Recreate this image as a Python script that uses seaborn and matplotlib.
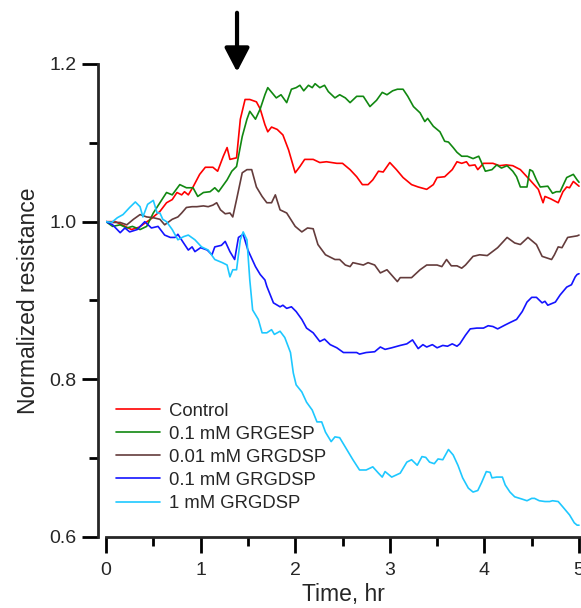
import pandas as pd
import matplotlib.pyplot as plt
import seaborn as sns
from matplotlib.ticker import MultipleLocator, FormatStrFormatter

# condition names, in legend order
conditions = ["Control", "0.1 mM GRGESP", "0.01 mM GRGDSP", "0.1 mM GRGDSP", "1 mM GRGDSP"]
colors = ["#ff0000", "#118811", "#643c3c", "#1414ff", "#1ec8ff"]

# time (hr) and normalized resistance
control_t = [0, 0.1, 0.27, 0.35, 0.47, 0.57, 0.64, 0.7, 0.75, 0.8, 0.83, 0.87, 0.92, 0.99, 1.05, 1.13,
             1.18, 1.24, 1.28, 1.31, 1.38, 1.42, 1.47, 1.52, 1.59, 1.63, 1.68, 1.71, 1.75, 1.81, 1.87,
             1.93, 2.0, 2.05, 2.10, 2.19, 2.26, 2.33, 2.44, 2.5, 2.58, 2.65, 2.71, 2.77, 2.82, 2.88,
             2.93, 3.0, 3.07, 3.14, 3.23, 3.30, 3.39, 3.46, 3.5, 3.58, 3.66, 3.71, 3.76, 3.81, 3.84,
             3.90, 3.93, 3.99, 4.09, 4.16, 4.23, 4.30, 4.38, 4.48, 4.57, 4.62, 4.64, 4.70, 4.78, 4.83,
             4.87, 4.9, 4.94, 4.98, 5.0]
control_r = [1.0, 1.0, 0.99, 0.993, 1.003, 1.013, 1.024, 1.028, 1.037, 1.034, 1.038, 1.034, 1.044, 1.06,
             1.069, 1.069, 1.064, 1.083, 1.094, 1.079, 1.081, 1.13, 1.155, 1.155, 1.152, 1.143, 1.123,
             1.114, 1.12, 1.117, 1.11, 1.091, 1.062, 1.07, 1.079, 1.079, 1.075, 1.076, 1.074, 1.074,
             1.066, 1.057, 1.047, 1.047, 1.053, 1.064, 1.063, 1.075, 1.066, 1.056, 1.047, 1.044, 1.041,
             1.047, 1.056, 1.057, 1.066, 1.076, 1.074, 1.076, 1.071, 1.072, 1.066, 1.074, 1.074, 1.071,
             1.072, 1.071, 1.066, 1.053, 1.041, 1.024, 1.032, 1.029, 1.024, 1.038, 1.044, 1.043, 1.051,
             1.047, 1.045]

gresp_t = [0, 0.07, 0.15, 0.22, 0.28, 0.36, 0.43, 0.5, 0.57, 0.64, 0.7, 0.78, 0.85, 0.92, 0.97, 1.03,
           1.1, 1.15, 1.19, 1.28, 1.33, 1.38, 1.44, 1.49, 1.52, 1.58, 1.63, 1.68, 1.71, 1.8, 1.85, 1.91,
           1.96, 2.01, 2.05, 2.09, 2.14, 2.18, 2.21, 2.26, 2.31, 2.35, 2.42, 2.47, 2.53, 2.58, 2.65,
           2.72, 2.79, 2.86, 2.92, 2.97, 3.03, 3.08, 3.14, 3.19, 3.25, 3.32, 3.37, 3.40, 3.46, 3.53,
           3.58, 3.62, 3.67, 3.71, 3.76, 3.82, 3.88, 3.94, 4.01, 4.08, 4.13, 4.18, 4.24, 4.30, 4.34,
           4.38, 4.45, 4.48, 4.51, 4.55, 4.59, 4.67, 4.72, 4.76, 4.80, 4.87, 4.94, 4.98, 5.0]
gresp_r = [1.0, 0.994, 0.996, 0.992, 0.994, 0.99, 0.994, 1.011, 1.024, 1.037, 1.034, 1.047, 1.043, 1.043,
           1.032, 1.037, 1.038, 1.043, 1.038, 1.053, 1.064, 1.07, 1.108, 1.13, 1.14, 1.13, 1.143, 1.161,
           1.17, 1.157, 1.161, 1.151, 1.168, 1.17, 1.173, 1.166, 1.173, 1.170, 1.175, 1.17, 1.173,
           1.165, 1.157, 1.161, 1.157, 1.151, 1.159, 1.159, 1.146, 1.154, 1.164, 1.161, 1.166, 1.168,
           1.168, 1.159, 1.146, 1.138, 1.127, 1.131, 1.121, 1.114, 1.102, 1.101, 1.094, 1.088, 1.083,
           1.083, 1.08, 1.083, 1.064, 1.066, 1.072, 1.068, 1.071, 1.064, 1.057, 1.044, 1.044, 1.066,
           1.064, 1.053, 1.044, 1.045, 1.036, 1.038, 1.038, 1.056, 1.06, 1.053, 1.05]

low_t = [0, 0.07, 0.15, 0.22, 0.29, 0.36, 0.43, 0.5, 0.57, 0.62, 0.7, 0.76, 0.8, 0.85, 0.91, 0.96, 1.03,
         1.08, 1.13, 1.17, 1.21, 1.26, 1.31, 1.34, 1.38, 1.44, 1.49, 1.54, 1.59, 1.65, 1.70, 1.75, 1.79,
         1.84, 1.91, 2.0, 2.07, 2.13, 2.19, 2.24, 2.32, 2.42, 2.47, 2.53, 2.58, 2.61, 2.72, 2.77, 2.84,
         2.9, 2.97, 3.08, 3.11, 3.23, 3.32, 3.39, 3.5, 3.55, 3.6, 3.65, 3.71, 3.76, 3.80, 3.88, 3.95,
         4.03, 4.14, 4.24, 4.32, 4.38, 4.46, 4.55, 4.61, 4.71, 4.74, 4.78, 4.82, 4.88, 4.98, 5.0]
low_r = [1.0, 0.999, 0.999, 0.996, 1.003, 1.009, 1.006, 1.005, 1.003, 0.996, 1.003, 1.006, 1.011, 1.018,
         1.019, 1.019, 1.02, 1.019, 1.021, 1.024, 1.015, 1.01, 1.011, 1.006, 1.028, 1.062, 1.066, 1.066,
         1.044, 1.032, 1.024, 1.024, 1.034, 1.015, 1.011, 0.994, 0.987, 0.992, 0.991, 0.971, 0.958,
         0.952, 0.952, 0.945, 0.943, 0.948, 0.945, 0.948, 0.945, 0.935, 0.939, 0.924, 0.929, 0.929,
         0.939, 0.945, 0.945, 0.943, 0.952, 0.944, 0.944, 0.941, 0.945, 0.956, 0.958, 0.957, 0.967,
         0.98, 0.973, 0.971, 0.98, 0.971, 0.956, 0.952, 0.958, 0.968, 0.967, 0.98, 0.982, 0.983]

mid_t = [0, 0.07, 0.15, 0.2, 0.25, 0.33, 0.41, 0.48, 0.55, 0.62, 0.68, 0.73, 0.76, 0.82, 0.87, 0.91, 0.94,
         1.0, 1.07, 1.12, 1.15, 1.22, 1.26, 1.31, 1.36, 1.4, 1.45, 1.5, 1.58, 1.63, 1.68, 1.7, 1.77,
         1.84, 1.87, 1.91, 1.96, 2.01, 2.07, 2.12, 2.19, 2.26, 2.31, 2.37, 2.44, 2.51, 2.58, 2.65,
         2.68, 2.75, 2.84, 2.9, 2.95, 3.02, 3.11, 3.18, 3.24, 3.30, 3.35, 3.39, 3.45, 3.5, 3.56, 3.61,
         3.66, 3.71, 3.74, 3.8, 3.85, 3.92, 3.99, 4.04, 4.09, 4.14, 4.22, 4.27, 4.34, 4.40, 4.45, 4.5,
         4.55, 4.61, 4.64, 4.67, 4.75, 4.8, 4.87, 4.92, 4.96, 4.98, 5.0]
mid_r = [1.0, 0.996, 0.986, 0.992, 0.987, 0.99, 1.0, 0.992, 0.994, 0.983, 0.98, 0.98, 0.984, 0.973,
         0.964, 0.968, 0.962, 0.967, 0.964, 0.958, 0.968, 0.97, 0.975, 0.962, 0.952, 0.98, 0.984, 0.964,
         0.943, 0.933, 0.926, 0.918, 0.897, 0.892, 0.894, 0.89, 0.892, 0.886, 0.876, 0.865, 0.859,
         0.848, 0.851, 0.844, 0.840, 0.834, 0.834, 0.834, 0.832, 0.834, 0.835, 0.841, 0.838, 0.84,
         0.843, 0.845, 0.85, 0.839, 0.844, 0.841, 0.844, 0.84, 0.843, 0.842, 0.845, 0.842, 0.845,
         0.856, 0.864, 0.865, 0.865, 0.868, 0.867, 0.864, 0.869, 0.872, 0.876, 0.886, 0.898, 0.904,
         0.904, 0.897, 0.899, 0.894, 0.898, 0.907, 0.917, 0.92, 0.93, 0.933, 0.934]

high_t = [0, 0.06, 0.12, 0.18, 0.25, 0.31, 0.36, 0.39, 0.44, 0.5, 0.54, 0.57, 0.6, 0.64, 0.7, 0.76, 0.82,
          0.87, 0.94, 1.01, 1.08, 1.15, 1.23, 1.28, 1.31, 1.34, 1.38, 1.42, 1.45, 1.49, 1.52, 1.55,
          1.61, 1.65, 1.70, 1.75, 1.78, 1.84, 1.89, 1.95, 1.98, 2.01, 2.07, 2.12, 2.18, 2.23, 2.28,
          2.32, 2.38, 2.42, 2.47, 2.55, 2.61, 2.68, 2.75, 2.82, 2.88, 2.92, 2.95, 3.02, 3.11, 3.18,
          3.23, 3.29, 3.34, 3.38, 3.42, 3.47, 3.51, 3.56, 3.62, 3.67, 3.72, 3.77, 3.83, 3.88, 3.93,
          3.97, 4.02, 4.06, 4.08, 4.13, 4.19, 4.22, 4.27, 4.32, 4.4, 4.45, 4.5, 4.53, 4.58, 4.64, 4.69,
          4.72, 4.78, 4.83, 4.9, 4.95, 4.98, 5.0]
high_r = [1.0, 0.999, 1.005, 1.009, 1.018, 1.025, 1.019, 1.006, 1.022, 1.027, 1.011, 1.011, 1.003, 1.0,
          0.99, 0.977, 0.981, 0.983, 0.977, 0.968, 0.964, 0.952, 0.948, 0.945, 0.93, 0.939, 0.939,
          0.977, 0.987, 0.977, 0.926, 0.888, 0.876, 0.859, 0.859, 0.863, 0.857, 0.861, 0.853, 0.834,
          0.808, 0.793, 0.784, 0.771, 0.761, 0.746, 0.746, 0.733, 0.721, 0.727, 0.726, 0.710, 0.698,
          0.685, 0.685, 0.689, 0.681, 0.676, 0.683, 0.676, 0.681, 0.695, 0.698, 0.691, 0.702, 0.701,
          0.695, 0.693, 0.699, 0.698, 0.711, 0.704, 0.691, 0.675, 0.662, 0.657, 0.659, 0.669, 0.683,
          0.682, 0.675, 0.676, 0.676, 0.666, 0.657, 0.651, 0.648, 0.646, 0.649, 0.649, 0.646, 0.645,
          0.645, 0.646, 0.645, 0.638, 0.628, 0.618, 0.615, 0.615]

series_t = [control_t, gresp_t, low_t, mid_t, high_t]
series_r = [control_r, gresp_r, low_r, mid_r, high_r]

arrow_time = 1.385  # when the peptide was added

frames = []
for name, t, r in zip(conditions, series_t, series_r):
    frames.append(pd.DataFrame({"time": t, "resistance": r, "condition": name}))
df = pd.concat(frames, ignore_index=True)

sns.set_style("ticks")
plt.rcParams["font.family"] = ["Liberation Sans", "DejaVu Sans"]

fig = plt.figure(figsize=(5.81, 6.08), dpi=100)
ax = fig.add_axes([106 / 581, 71 / 608, 475 / 581, 473 / 608])

sns.lineplot(
    data=df,
    x="time",
    y="resistance",
    hue="condition",
    hue_order=conditions,
    palette=colors,
    estimator=None,
    sort=False,
    linewidth=1.2,
    ax=ax,
)

ax.set_xlim(0, 5.021)
ax.set_ylim(0.6, 1.2)
ax.xaxis.set_major_locator(MultipleLocator(1))
ax.xaxis.set_minor_locator(MultipleLocator(0.5))
ax.yaxis.set_major_locator(MultipleLocator(0.2))
ax.yaxis.set_minor_locator(MultipleLocator(0.1))
ax.yaxis.set_major_formatter(FormatStrFormatter("%.1f"))

for side in ["top", "right"]:
    ax.spines[side].set_visible(False)
ax.spines["left"].set_position(("outward", 6))
for side in ["left", "bottom"]:
    ax.spines[side].set_linewidth(2)
ax.tick_params(which="major", length=11.5, width=2, labelsize=14, direction="out", color="black")
ax.tick_params(which="minor", length=6.5, width=2, direction="out", color="black")
ax.tick_params(axis="x", which="major", pad=6.5)
ax.tick_params(axis="y", which="major", pad=3.5)

ax.set_xlabel("Time, hr", fontsize=16.5, labelpad=3)
ax.set_ylabel("Normalized resistance", fontsize=16.5, labelpad=7)

ax.annotate(
    "",
    xy=(arrow_time, 1.19),
    xytext=(arrow_time, 1.265),
    arrowprops=dict(
        arrowstyle="-|>,head_length=0.72,head_width=0.375",
        mutation_scale=20,
        lw=3,
        color="black",
        shrinkA=0,
        shrinkB=0,
    ),
    annotation_clip=False,
)

leg = ax.legend(
    loc="upper left",
    bbox_to_anchor=(0.021, 0.284),
    frameon=False,
    fontsize=13.3,
    handlelength=2.4,
    handletextpad=0.45,
    labelspacing=0.33,
    borderpad=0,
    borderaxespad=0,
)
for line in leg.get_lines():
    line.set_linewidth(1.2)

fig.savefig("out.png", dpi=100)
